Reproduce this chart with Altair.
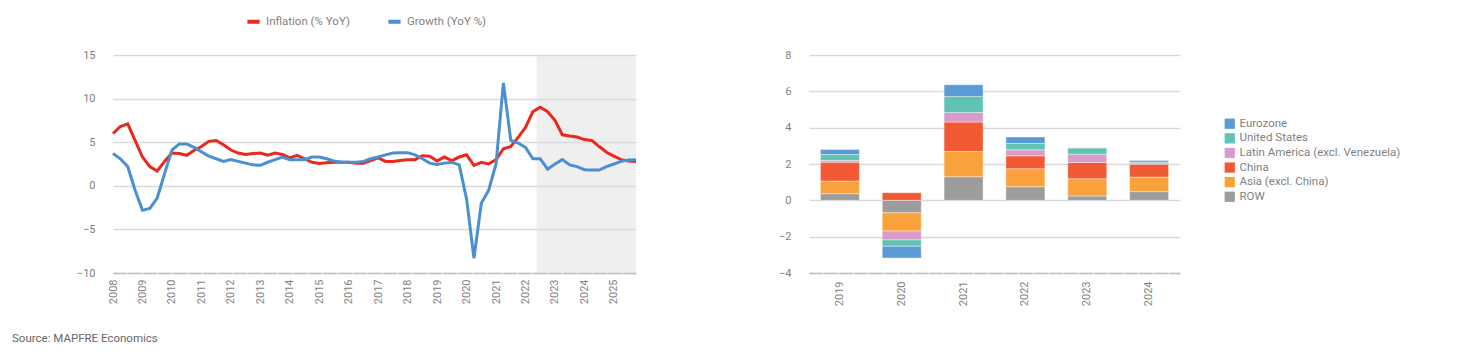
import altair as alt
import pandas as pd

FONT = "Roboto"
GRAY = "#7F7F7F"

# ---------------- Left chart data (quarterly, 2008Q1 .. 2025Q4) ----------------
year_ticks = list(range(2008, 2026))
inflation = [6.0, 6.8, 7.1, 5.2, 3.3, 2.2, 1.7, 2.8, 3.75, 3.7, 3.5, 4.05,
             4.5, 5.1, 5.2, 4.7, 4.1, 3.75, 3.6, 3.7, 3.75, 3.5, 3.75, 3.6,
             3.2, 3.5, 3.1, 2.7, 2.55, 2.65, 2.7, 2.7, 2.7, 2.6, 2.6, 2.9,
             3.2, 2.8, 2.8, 2.9, 3.0, 3.0, 3.45, 3.4, 2.85, 3.3, 2.9, 3.3,
             3.55, 2.35, 2.7, 2.5, 3.0, 4.25, 4.5, 5.55, 6.7, 8.5, 9.0, 8.5,
             7.5, 5.85, 5.7, 5.6, 5.3, 5.2, 4.5, 3.85, 3.4, 3.0, 2.85, 2.8]
growth = [3.7, 3.1, 2.2, -0.5, -2.8, -2.6, -1.4, 1.4, 4.1, 4.8, 4.8, 4.4,
          3.9, 3.4, 3.1, 2.8, 3.0, 2.8, 2.6, 2.4, 2.35, 2.7, 3.0, 3.3,
          3.0, 3.0, 3.0, 3.3, 3.3, 3.1, 2.85, 2.7, 2.7, 2.7, 2.8, 3.1,
          3.3, 3.55, 3.75, 3.8, 3.8, 3.55, 3.1, 2.6, 2.45, 2.6, 2.7, 2.4,
          -1.5, -8.3, -2.0, -0.5, 2.5, 11.8, 5.2, 4.9, 4.4, 3.1, 3.1, 1.9,
          2.5, 3.0, 2.4, 2.2, 1.85, 1.8, 1.8, 2.2, 2.5, 2.8, 2.95, 3.0]
series_names = ["Inflation (% YoY)", "Growth (YoY %)"]
series_colors = ["#E8291C", "#4A8FD1"]
forecast_start = 2022.375
forecast_end = 2025.75
source_text = ["Source: MAPFRE Economics"]

# ---------------- Right chart data ----------------
bar_years = ["2019", "2020", "2021", "2022", "2023", "2024"]
regions = ["Eurozone", "United States", "Latin America (excl. Venezuela)",
           "China", "Asia (excl. China)", "ROW"]
region_colors = ["#5B9BD5", "#5FC3B3", "#D99BC9", "#F15A33", "#F9A23B", "#9C9C9C"]
row_vals = [0.37, -0.69, 1.30, 0.75, 0.24, 0.48]
asia_vals = [0.69, -1.00, 1.39, 0.99, 0.95, 0.80]
china_vals = [1.04, 0.42, 1.62, 0.71, 0.89, 0.71]
latam_vals = [0.10, -0.49, 0.53, 0.33, 0.46, 0.08]
us_vals = [0.32, -0.35, 0.88, 0.35, 0.35, 0.03]
euro_vals = [0.28, -0.65, 0.64, 0.36, 0.00, 0.09]

# ---------------- Build tables ----------------
t = [2008 + i / 4 for i in range(len(inflation))]
df_line = pd.DataFrame({
    "t": t + t,
    "v": inflation + growth,
    "s": [series_names[0]] * len(inflation) + [series_names[1]] * len(growth),
})
df_shade = pd.DataFrame({"x": [forecast_start], "x2": [forecast_end]})
df_src = pd.DataFrame({"txt": source_text})

stack_cols = [("ROW", row_vals), ("Asia (excl. China)", asia_vals), ("China", china_vals),
              ("Latin America (excl. Venezuela)", latam_vals), ("United States", us_vals),
              ("Eurozone", euro_vals)]
rows = []
for k, (name, vals) in enumerate(stack_cols):
    for y, v in zip(bar_years, vals):
        rows.append({"year": y, "region": name, "v": v, "ord": k})
df_bar = pd.DataFrame(rows)

# ---------------- Left chart ----------------
W1, H = 523, 218
xs = alt.Scale(domain=[2008, 2025.75], nice=False, zero=False)
ys = alt.Scale(domain=[-10, 15], nice=False)
x_axis = alt.Axis(
    values=year_ticks, format="d", labelAngle=-90, title=None, grid=False,
    ticks=False, domainColor="#BFBFBF", domainWidth=1.5, domainDash=[13, 2],
    labelPadding=6, labelColor=GRAY, labelFontSize=11, labelFont=FONT)

shade = alt.Chart(df_shade).mark_rect(color="#DCDCDC", opacity=0.45).encode(
    x=alt.X("x:Q", scale=xs, axis=x_axis),
    x2="x2:Q",
    y=alt.value(0),
    y2=alt.value(H),
)

lines = alt.Chart(df_line).mark_line(strokeWidth=3).encode(
    x=alt.X("t:Q", scale=xs, axis=x_axis),
    y=alt.Y("v:Q", scale=ys, axis=alt.Axis(
        values=[-10, -5, 0, 5, 10, 15], title=None, domain=False, ticks=False,
        gridColor="#D9D9D9", gridWidth=1.5, labelPadding=18,
        labelColor=GRAY, labelFontSize=11, labelFont=FONT)),
    color=alt.Color("s:N", scale=alt.Scale(domain=series_names, range=series_colors),
                    legend=alt.Legend(orient="none", legendX=132, legendY=-42,
                                      direction="horizontal", title=None,
                                      symbolType="stroke", symbolStrokeWidth=4,
                                      symbolSize=150, columnPadding=30,
                                      labelColor=GRAY, labelFontSize=11.5, labelFont=FONT)),
    detail="s:N",
)

source = alt.Chart(df_src).mark_text(
    align="left", baseline="middle", font=FONT, fontSize=11.5, color="#666666"
).encode(text="txt:N", x=alt.value(-101), y=alt.value(H + 66))

left = alt.layer(shade, lines, source).properties(width=W1, height=H)

# ---------------- Right chart ----------------
W2 = 371
bars = alt.Chart(df_bar).mark_bar(size=39, stroke="white", strokeWidth=0.4).encode(
    x=alt.X("year:N", sort=bar_years, scale=alt.Scale(paddingInner=0.37, paddingOuter=0.185),
            axis=alt.Axis(labelAngle=-90, title=None, ticks=False, domainColor="#BFBFBF",
                          domainWidth=1.5, domainDash=[13, 2], labelPadding=8,
                          labelColor=GRAY, labelFontSize=11, labelFont=FONT)),
    y=alt.Y("v:Q", stack="zero", scale=alt.Scale(domain=[-4, 8], nice=False),
            axis=alt.Axis(values=[-4, -2, 0, 2, 4, 6, 8], title=None, domain=False,
                          ticks=False, gridColor="#D9D9D9", gridWidth=1.5, labelPadding=18,
                          labelColor=GRAY, labelFontSize=11, labelFont=FONT)),
    color=alt.Color("region:N", scale=alt.Scale(domain=regions, range=region_colors),
                    legend=alt.Legend(orient="none", legendX=415, legendY=63, title=None,
                                      symbolType="square", symbolSize=105, symbolStrokeWidth=0,
                                      rowPadding=1.6, labelLimit=400,
                                      labelColor=GRAY, labelFontSize=11.5, labelFont=FONT)),
    order=alt.Order("ord:Q", sort="ascending"),
)
right = bars.properties(width=W2, height=H)

chart = alt.hconcat(left, right, spacing=136).resolve_scale(
    color="independent"
).resolve_legend(color="independent").properties(
    padding={"left": 4, "top": 5, "right": 5, "bottom": 5},
).configure_view(stroke=None)

chart.save("out.html", embed_options={"renderer": "svg", "actions": False})
